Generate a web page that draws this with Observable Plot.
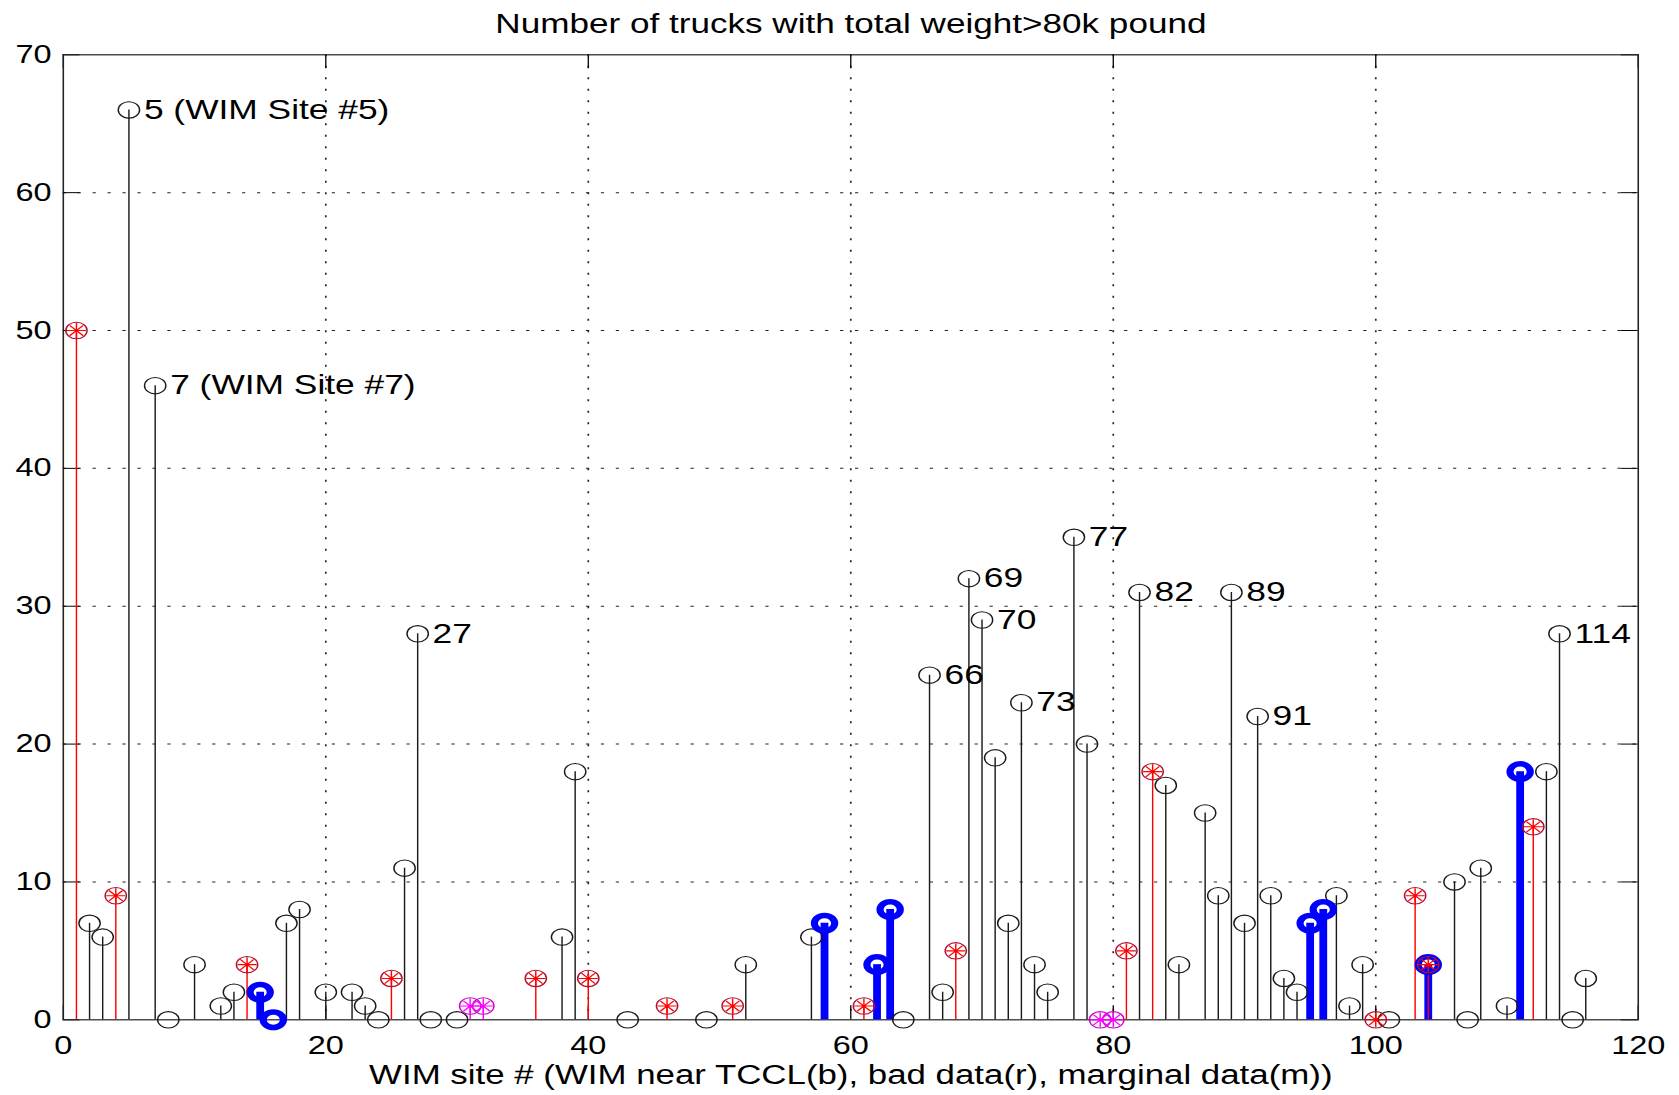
<!DOCTYPE html>
<html><head><meta charset="utf-8">
<script src="https://cdn.jsdelivr.net/npm/d3@7"></script>
<script src="https://cdn.jsdelivr.net/npm/@observablehq/plot@0.6"></script>
<style>
html,body{margin:0;padding:0;background:#fff;overflow:hidden}
#wrap{width:1291.5px;transform:scaleX(1.3);transform-origin:0 0;font-family:"Liberation Sans",Arial,sans-serif}
#title{box-sizing:border-box;height:40px;line-height:48px;padding-left:17.6px;text-align:center;font-size:27px;color:#000;white-space:nowrap}
</style></head>
<body>
<div id="wrap"><div id="title">Number of trucks with total weight&gt;80k pound</div></div>
<script>
// WIM sites with normal data (black)
const normalSites  = [2,3,5,7,8,10,12,13,17,18,20,22,23,24,26,27,28,30,38,39,43,49,52,57,64,66,67,69,70,71,72,73,74,75,77,78,82,84,85,87,88,89,90,91,92,93,94,97,98,99,101,106,107,108,110,113,114,115,116];
const normalCounts = [7,6,66,46,0,4,1,2,7,8,2,2,1,0,11,28,0,0,6,18,0,0,4,6,0,25,2,32,29,19,7,23,4,2,35,20,31,17,4,15,9,31,7,22,9,3,2,9,1,4,0,10,0,11,1,18,28,0,3];
// bad data (red)
const badSites  = [1,4,14,25,36,40,46,51,61,68,81,83,100,103,104,112];
const badCounts = [50,9,4,3,3,3,1,1,1,5,5,18,0,9,4,14];
// marginal data (magenta)
const marginalSites  = [31,32,79,80];
const marginalCounts = [1,1,0,0];
// WIM near TCCL (blue)
const tcclSites  = [15,16,58,62,63,95,96,104,111];
const tcclCounts = [2,0,7,4,8,7,8,4,18];
// labels
const labelSites = [5,7,27,66,69,70,73,77,82,89,91,114];
const labelTexts = ["5 (WIM Site #5)","7 (WIM Site #7)","27","66","69","70","73","77","82","89","91","114"];
const xTicks = [0,20,40,60,80,100,120];
const yTicks = [0,10,20,30,40,50,60,70];
const xGrid = [20,40,60,80,100];
const yGrid = [10,20,30,40,50,60];
const xLabel = "WIM site # (WIM near TCCL(b), bad data(r), marginal data(m))";

const mk = (s, c) => s.map((site, i) => ({site, count: c[i]}));
const normal = mk(normalSites, normalCounts);
const bad = mk(badSites, badCounts);
const marginal = mk(marginalSites, marginalCounts);
const tccl = mk(tcclSites, tcclCounts);
const lookup = new Map(normal.map(d => [d.site, d.count]));
const labels = labelSites.map((s, i) => ({site: s, count: lookup.get(s), label: labelTexts[i]}));

const asterisk = {
  draw(ctx, size) {
    const r = Math.sqrt(size / Math.PI);
    const a = r * Math.SQRT1_2;
    ctx.moveTo(-r, 0); ctx.lineTo(r, 0);
    ctx.moveTo(0, -r); ctx.lineTo(0, r);
    ctx.moveTo(-a, -a); ctx.lineTo(a, a);
    ctx.moveTo(-a, a); ctx.lineTo(a, -a);
  }
};

const W = 1291.5, H = 1055, mL = 48.2, mR = 31.8, mT = 14.3, mB = 75.7;
const fW = W - mL - mR, fH = H - mT - mB;

const plot = Plot.plot({
  width: W, height: H,
  marginLeft: mL, marginRight: mR, marginTop: mT, marginBottom: mB,
  x: {domain: [0, 120]},
  y: {domain: [0, 70]},
  style: {background: "white", color: "#000", fontFamily: "'Liberation Sans', Arial, sans-serif", fontSize: "25px", overflow: "visible"},
  marks: [
    Plot.ruleY(yGrid, {y: d => d, stroke: "#222", strokeWidth: 1, strokeDasharray: "2.5,9"}),
    Plot.ruleX(xGrid, {x: d => d, stroke: "#222", strokeWidth: 1.3, strokeDasharray: "2,9.5"}),
    Plot.tickY(yTicks, {y: d => d, insetRight: fW - 13, stroke: "#000"}),
    Plot.tickY(yTicks, {y: d => d, insetLeft: fW - 13, stroke: "#000"}),
    Plot.tickX(xTicks, {x: d => d, insetTop: fH - 14, stroke: "#000"}),
    Plot.tickX(xTicks, {x: d => d, insetBottom: fH - 14, stroke: "#000"}),
    Plot.frame({stroke: "#222", strokeWidth: 1.2}),
    Plot.axisX({ticks: xTicks, tickSize: 0, tickPadding: 16, fontSize: 25, label: null}),
    Plot.axisY({ticks: yTicks, tickSize: 0, tickPadding: 9, fontSize: 25, label: null}),
    // stems
    Plot.ruleX(normal, {x: "site", y1: 0, y2: "count", stroke: "#1a1a1a", strokeWidth: 1.1}),
    Plot.ruleX(tccl, {x: "site", y1: 0, y2: "count", stroke: "#0000ff", strokeWidth: 6}),
    Plot.ruleX(bad, {x: "site", y1: 0, y2: "count", stroke: "#ff0000", strokeWidth: 1.1}),
    Plot.ruleX(marginal, {x: "site", y1: 0, y2: "count", stroke: "#ff00ff", strokeWidth: 1.1}),
    // markers
    Plot.dot(normal, {x: "site", y: "count", r: 8.2, fill: "none", stroke: "#1a1a1a", strokeWidth: 1.1}),
    Plot.dot(tccl, {x: "site", y: "count", r: 7.8, fill: "none", stroke: "#0000ff", strokeWidth: 5.5}),
    Plot.dot(bad, {x: "site", y: "count", r: 8.2, fill: "none", stroke: "#b01030", strokeWidth: 1.1}),
    Plot.dot(bad, {x: "site", y: "count", r: 7.4, symbol: asterisk, fill: "none", stroke: "#ff0000", strokeWidth: 1.1}),
    Plot.dot(marginal, {x: "site", y: "count", r: 8.2, fill: "none", stroke: "#cc00cc", strokeWidth: 1.1}),
    Plot.dot(marginal, {x: "site", y: "count", r: 7.4, symbol: asterisk, fill: "none", stroke: "#ff00ff", strokeWidth: 1.1}),
    // labels
    Plot.text(labels, {x: "site", y: "count", text: "label", textAnchor: "start", dx: 11.5, fontSize: 27.2, fill: "#000"}),
    Plot.text([xLabel], {frameAnchor: "bottom", dy: 64, text: d => d, fontSize: 26.8, fill: "#000"})
  ]
});
document.getElementById("wrap").append(plot);
</script>
</body></html>
